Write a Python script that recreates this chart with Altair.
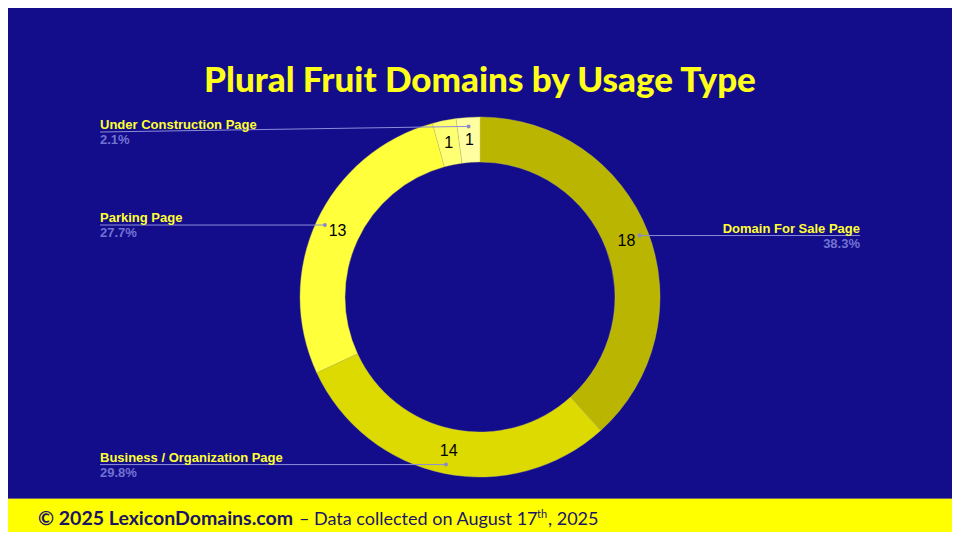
import altair as alt
import pandas as pd

# ---- data ----
categories = ["Domain For Sale Page", "Business / Organization Page", "Parking Page",
              "Other Page", "Under Construction Page"]
counts = [18, 14, 13, 1, 1]
slice_colors = ["#B9B500", "#DCDA00", "#FFFF3C", "#FFFF74", "#FFFFA2"]
hidden_labels = ["Other Page"]

title_text = "Plural Fruit Domains by Usage Type"
footer_bold = "© 2025 LexiconDomains.com"
footer_main = "– Data collected on August 17"
footer_sup = "th"
footer_end = ", 2025"

# ---- layout constants ----
W, H = 944, 524
CX, CY = 472, 289
R_OUT, R_IN = 180, 135
R_TEXT, R_DOT = 157, 171
LEFT_X, RIGHT_X = 92, 852
MIN_LABEL_Y = 124

BG = "#130D8B"
LINE_C = "#8C8CDA"
PCT_C = "#7272D2"
LABEL_C = "#FFFF33"
FOOT_C = "#1B1566"

df = pd.DataFrame({"idx": range(len(categories)), "category": categories, "count": counts})
one = pd.DataFrame({"k": [0]})

base = alt.Chart(df)

arcs = base.mark_arc(outerRadius=R_OUT, innerRadius=R_IN, stroke="#C8C858",
                     strokeWidth=0.4).encode(
    theta=alt.Theta("count:Q", stack=True),
    order=alt.Order("idx:Q"),
    color=alt.Color("category:N", scale=alt.Scale(domain=categories, range=slice_colors),
                    legend=None),
    x=alt.value(CX),
    y=alt.value(CY),
)

geo = base.transform_window(
    cum="sum(count)", sort=[alt.SortField("idx")], frame=[None, 0]
).transform_joinaggregate(
    total="sum(count)"
).transform_calculate(
    a="2*PI*(datum.cum - datum.count/2)/datum.total"
).transform_calculate(
    tx=f"{CX} + {R_TEXT}*sin(datum.a)",
    ty=f"{CY} - {R_TEXT}*cos(datum.a)",
    dx=f"{CX} + {R_DOT}*sin(datum.a)",
    dy=f"{CY} - {R_DOT}*cos(datum.a)",
    right="sin(datum.a) >= 0",
    pct="format(datum.count/datum.total, '.1%')",
).transform_calculate(
    ex=f"datum.right ? {RIGHT_X} : {LEFT_X}",
    ey=f"max(datum.dy, {MIN_LABEL_Y})",
)

values = geo.mark_text(font="Liberation Sans", fontSize=16, color="#000000",
                       align="center", baseline="middle").encode(
    x=alt.X("tx:Q", scale=None, axis=None),
    y=alt.Y("ty:Q", scale=None, axis=None),
    text=alt.Text("count:Q"),
)

labeled = geo.transform_filter(
    ~alt.FieldOneOfPredicate(field="category", oneOf=hidden_labels)
)

leaders = labeled.mark_rule(color=LINE_C, strokeWidth=1).encode(
    x=alt.X("dx:Q", scale=None, axis=None),
    y=alt.Y("dy:Q", scale=None, axis=None),
    x2="ex:Q",
    y2="ey:Q",
)

dots = labeled.mark_circle(size=16, color="#8A8AC8", opacity=1).encode(
    x=alt.X("dx:Q", scale=None, axis=None),
    y=alt.Y("dy:Q", scale=None, axis=None),
)


def side_labels(is_right):
    part = labeled.transform_filter(
        "datum.right" if is_right else "!datum.right"
    )
    al = "right" if is_right else "left"
    names = part.mark_text(font="Liberation Sans", fontSize=13, fontWeight="bold",
                           color=LABEL_C, align=al, baseline="alphabetic", dy=-3).encode(
        x=alt.X("ex:Q", scale=None, axis=None),
        y=alt.Y("ey:Q", scale=None, axis=None),
        text="category:N",
    )
    pcts = part.mark_text(font="Liberation Sans", fontSize=13, fontWeight="bold",
                          color=PCT_C, align=al, baseline="alphabetic", dy=12).encode(
        x=alt.X("ex:Q", scale=None, axis=None),
        y=alt.Y("ey:Q", scale=None, axis=None),
        text="pct:N",
    )
    return names + pcts


ann = alt.Chart(one)

footer_band = ann.mark_rect(color="#FFFF00").encode(
    x=alt.value(0), x2=alt.value(W), y=alt.value(491), y2=alt.value(H)
)
footer_line = ann.mark_rule(color="#6E6E66", strokeWidth=1).encode(
    x=alt.value(0), x2=alt.value(W), y=alt.value(490.5)
)

title = ann.mark_text(text=title_text, font="Lato", fontSize=35, fontWeight=900,
                      color="#FFFF1A", align="center", baseline="alphabetic").encode(
    x=alt.value(CX), y=alt.value(84)
)

f1 = ann.mark_text(text=footer_bold, font="Lato", fontSize=19.5, fontWeight="bold",
                   color=FOOT_C, align="left", baseline="alphabetic").encode(
    x=alt.value(30), y=alt.value(517)
)
f2 = ann.mark_text(text=footer_main, font="Lato", fontSize=18, fontWeight="normal",
                   color=FOOT_C, align="left", baseline="alphabetic").encode(
    x=alt.value(291), y=alt.value(517)
)
f3 = ann.mark_text(text=footer_sup, font="Lato", fontSize=11, fontWeight="normal",
                   color=FOOT_C, align="left", baseline="alphabetic").encode(
    x=alt.value(529), y=alt.value(510)
)
f4 = ann.mark_text(text=footer_end, font="Lato", fontSize=18, fontWeight="normal",
                   color=FOOT_C, align="left", baseline="alphabetic").encode(
    x=alt.value(540), y=alt.value(517)
)

chart = alt.layer(
    footer_band, footer_line, arcs, leaders, dots, values,
    side_labels(True), side_labels(False), title, f1, f2, f3, f4,
).properties(
    width=W, height=H, background=BG, padding=0,
    autosize=alt.AutoSizeParams(type="none"),
).configure_view(strokeWidth=0)

chart.save("out.html", embed_options={"renderer": "svg", "actions": False})
